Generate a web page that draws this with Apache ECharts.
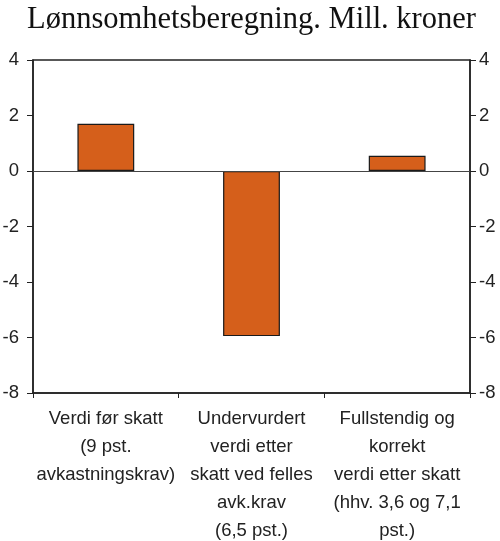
<!DOCTYPE html>
<html>
<head>
<meta charset="utf-8">
<script src="https://cdn.jsdelivr.net/npm/echarts@6/dist/echarts.min.js"></script>
<style>
  html, body { margin: 0; padding: 0; background: #fff; }
  #chart { width: 500px; height: 541px; }
</style>
</head>
<body>
<div id="chart"></div>
<script>
const categories = [
  "Verdi før skatt\n(9 pst.\navkastningskrav)",
  "Undervurdert\nverdi etter\nskatt ved felles\navk.krav\n(6,5 pst.)",
  "Fullstendig og\nkorrekt\nverdi etter skatt\n(hhv. 3,6 og 7,1\npst.)"
];
const values = [1.7, -5.95, 0.55];
const yMin = -8;
const yMax = 4;
const yStep = 2;

const chart = echarts.init(document.getElementById("chart"));

const valueAxis = (position, margin) => ({
  type: "value",
  position: position,
  min: yMin,
  max: yMax,
  interval: yStep,
  axisLine: { show: true, lineStyle: { color: "#222", width: 1.5 } },
  axisTick: { show: true, length: 6, lineStyle: { color: "#222" } },
  axisLabel: {
    color: "#222",
    fontSize: 18.5,
    fontFamily: "Liberation Sans",
    margin: margin
  },
  splitLine: { show: false }
});

chart.setOption({
  animation: false,
  title: {
    text: "Lønnsomhetsberegning. Mill. kroner",
    left: 22,
    top: -1,
    textStyle: {
      fontFamily: "Liberation Serif",
      fontWeight: "normal",
      fontSize: 30.5,
      color: "#111"
    }
  },
  grid: {
    left: 33,
    right: 30,
    top: 60,
    bottom: 148,
    outerBoundsMode: "none",
    show: true,
    borderColor: "#222",
    borderWidth: 1.5
  },
  xAxis: {
    type: "category",
    data: categories,
    axisLine: { onZero: false, lineStyle: { color: "#222", width: 1.5 } },
    axisTick: { show: true, length: 5, lineStyle: { color: "#222" } },
    axisLabel: {
      color: "#222",
      fontSize: 18.5,
      lineHeight: 28,
      fontFamily: "Liberation Sans",
      margin: 12,
      interval: 0
    }
  },
  yAxis: [valueAxis("left", 14), valueAxis("right", 9)],
  series: [
    {
      type: "bar",
      data: values,
      barWidth: "39%",
      itemStyle: {
        color: "#D55F1B",
        borderColor: "#1a1a1a",
        borderWidth: 1.2
      },
      markLine: {
        silent: true,
        symbol: "none",
        label: { show: false },
        lineStyle: { color: "#444", width: 1, type: "solid" },
        data: [{ yAxis: 0 }]
      }
    }
  ]
});
</script>
</body>
</html>
